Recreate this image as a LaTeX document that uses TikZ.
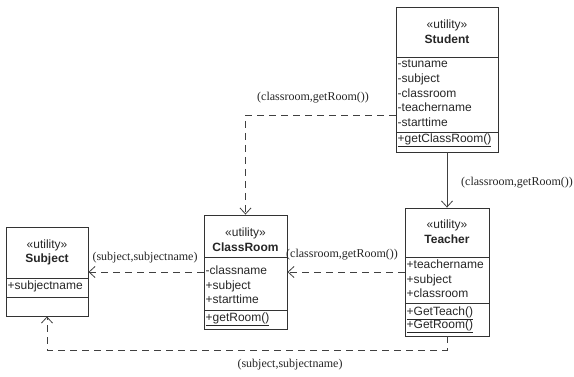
\documentclass[tikz,border=0pt]{standalone}
\usepackage{fontspec}
\setmainfont{Liberation Serif}
\setsansfont{Liberation Sans}
\usetikzlibrary{arrows.meta}

\begin{document}
\begin{tikzpicture}[
      x=1pt, y=-1pt,
      every node/.style={inner sep=0pt, text=black!85},
      classbox/.style={draw=black!80, line width=0.9pt},
      sep/.style={draw=black!80, line width=0.9pt},
      stereo/.style={font=\sffamily\fontsize{12}{14}\selectfont},
      cname/.style={font=\sffamily\bfseries\fontsize{12}{14}\selectfont},
      member/.style={anchor=west, font=\sffamily\fontsize{12}{14}\selectfont,
                     text height=8.5pt, text depth=2.5pt},
      msg/.style={font=\rmfamily\fontsize{12}{14}\selectfont},
      dep/.style={draw=black!75, line width=0.8pt, dash pattern=on 7pt off 5pt,
                  -{Straight Barb[length=6pt, width=11pt]}},
      assoc/.style={draw=black!75, line width=0.8pt,
                  -{Straight Barb[length=6pt, width=11pt]}},
    ]
    \useasboundingbox (0,0) rectangle (574,376);

    % Student
    \node[classbox, minimum width=102pt, minimum height=145pt] (student) at (447,79.5) {};
    \draw[sep] (396,57) -- (498,57);
    \draw[sep] (396,132) -- (498,132);
    \node[stereo] (student-st) at (447,25) {«utility»};
    \node[cname]  (student-nm) at (447,39) {Student};
    \node[member] (student-a1) at (397.5,64)  {-stuname};
    \node[member] (student-a2) at (397.5,79)  {-subject};
    \node[member] (student-a3) at (397.5,94)  {-classroom};
    \node[member] (student-a4) at (397.5,108) {-teachername};
    \node[member] (student-a5) at (397.5,123) {-starttime};
    \node[member] (student-m1) at (397.5,139) {\underline{+getClassRoom()}};

    % Teacher
    \node[classbox, minimum width=84pt, minimum height=128pt] (teacher) at (447,272) {};
    \draw[sep] (405,257) -- (489,257);
    \draw[sep] (405,303) -- (489,303);
    \node[stereo] (teacher-st) at (447,225) {«utility»};
    \node[cname]  (teacher-nm) at (447,239) {Teacher};
    \node[member] (teacher-a1) at (406.5,265) {+teachername};
    \node[member] (teacher-a2) at (406.5,280) {+subject};
    \node[member] (teacher-a3) at (406.5,294) {+classroom};
    \node[member] (teacher-m1) at (406.5,312) {\underline{+GetTeach()}};
    \node[member] (teacher-m2) at (406.5,325) {\underline{+GetRoom()}};

    % ClassRoom
    \node[classbox, minimum width=83pt, minimum height=114pt] (classroom) at (245.5,272) {};
    \draw[sep] (204,257) -- (287,257);
    \draw[sep] (204,310) -- (287,310);
    \node[stereo] (classroom-st) at (245.5,233) {«utility»};
    \node[cname]  (classroom-nm) at (245.5,247) {ClassRoom};
    \node[member] (classroom-a1) at (205.5,271) {-classname};
    \node[member] (classroom-a2) at (205.5,286) {+subject};
    \node[member] (classroom-a3) at (205.5,300) {+starttime};
    \node[member] (classroom-m1) at (205.5,318) {\underline{+getRoom()}};

    % Subject
    \node[classbox, minimum width=82pt, minimum height=89pt] (subject) at (47,271.5) {};
    \draw[sep] (6,278) -- (88,278);
    \draw[sep] (6,297) -- (88,297);
    \node[stereo] (subject-st) at (47,245) {«utility»};
    \node[cname]  (subject-nm) at (47,259) {Subject};
    \node[member] (subject-a1) at (7.5,286) {+subjectname};

    % dependencies
    \coordinate (bendA) at (245,115);
    \coordinate (bendB) at (0,350);
    \draw[dep]   (student.west |- bendA) -| (classroom.north);
    \draw[assoc] (student.south) -- (teacher.north);
    \draw[dep]   (teacher.west) -- (classroom.east);
    \draw[dep]   (classroom.west) -- (subject.east |- classroom.west);
    \draw[dep]   (teacher.south) -- (teacher.south |- bendB) -| (subject.south);

    \node[msg] (msg-sc) at (313,98)  {(classroom,getRoom())};
    \node[msg] (msg-st) at (517,183) {(classroom,getRoom())};
    \node[msg] (msg-tc) at (342,255) {(classroom,getRoom())};
    \node[msg] (msg-cs) at (145,258) {(subject,subjectname)};
    \node[msg] (msg-ts) at (290,365) {(subject,subjectname)};
  \end{tikzpicture}
\end{document}
